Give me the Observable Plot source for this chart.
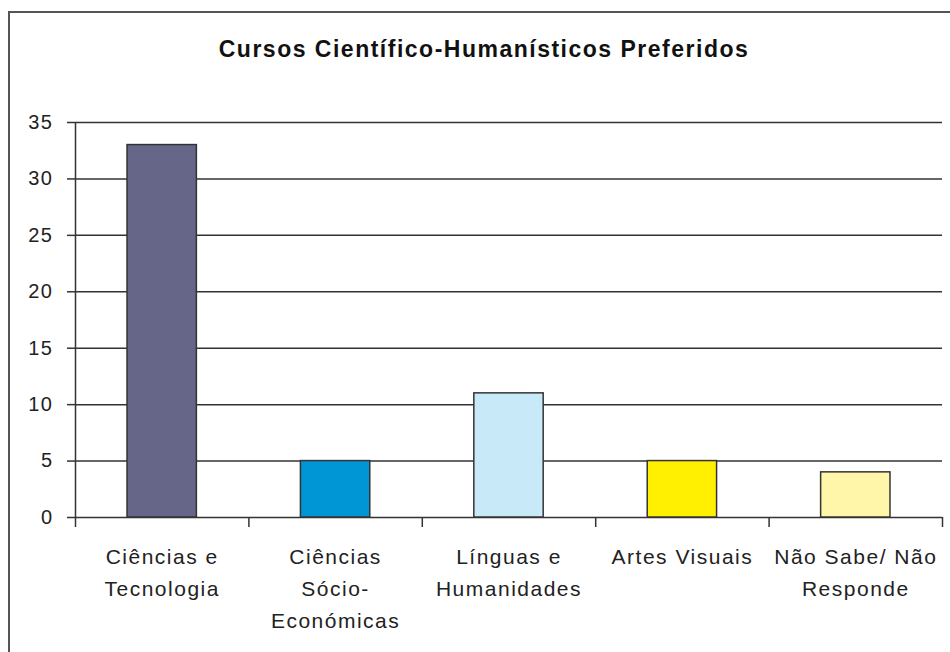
<!DOCTYPE html>
<html>
<head>
<meta charset="utf-8">
<script src="https://cdn.jsdelivr.net/npm/d3@7"></script>
<script src="https://cdn.jsdelivr.net/npm/@observablehq/plot@0.6"></script>
<style>
  html, body { margin: 0; padding: 0; background: #fff; }
  #wrap { position: relative; width: 950px; height: 652px; overflow: hidden; }
  #border { position: absolute; left: 8px; top: 11px; width: 2000px; height: 2000px;
            border-left: 2px solid #555; border-top: 2px solid #555; pointer-events: none; }
  svg text { letter-spacing: 1.5px; }
  svg text.title { letter-spacing: 0.3px; }
</style>
</head>
<body>
<div id="wrap"><div id="border"></div></div>
<script>
const title = "Cursos Científico-Humanísticos Preferidos";
const categories = ["Ciências e\nTecnologia", "Ciências\nSócio-\nEconómicas", "Línguas e\nHumanidades", "Artes Visuais", "Não Sabe/ Não\nResponde"];
const values = [33, 5, 11, 5, 4];
const colors = ["#666688", "#0095d5", "#c8e9f8", "#ffef00", "#fff6aa"];
const yTicks = [0, 5, 10, 15, 20, 25, 30, 35];
const xBoundaries = [0, 1, 2, 3, 4, 5];

const data = categories.map((c, i) => ({c, v: values[i], color: colors[i], i}));

const chart = Plot.plot({
  width: 950,
  height: 652,
  marginLeft: 75,
  marginRight: 8,
  marginTop: 122,
  marginBottom: 135,
  style: {fontFamily: "'Liberation Sans', Arial, sans-serif", fontSize: "20px", color: "#222", background: "transparent"},
  x: {domain: [0, 5], axis: null, label: null},
  y: {domain: [0, 35], axis: null, label: null},
  marks: [
    Plot.gridY(yTicks, {stroke: "#333", strokeOpacity: 1, strokeWidth: 1.5}),
    Plot.ruleX([0], {y1: 0, y2: 35, stroke: "#333", strokeWidth: 1.5}),
    Plot.axisY({ticks: yTicks, label: null, tickSize: 8, tickPadding: 14, fontSize: 20, stroke: "#333", strokeWidth: 1.5, fill: "#222"}),
    Plot.axisX({ticks: xBoundaries, label: null, tickSize: 10, tickFormat: () => "", stroke: "#333", strokeWidth: 1.5}),
    Plot.rectY(data, {x1: d => d.i + 0.3, x2: d => d.i + 0.7, y: "v", fill: "color", stroke: "#333", strokeWidth: 1.5}),
    Plot.text(data, {x: d => d.i + 0.5, y: 0, text: "c", lineAnchor: "top", dy: 24, fontSize: 21, lineHeight: 1.52, fill: "#222"}),
    Plot.text([title], {frameAnchor: "top", dx: -25, dy: -82, lineAnchor: "top", fontSize: 23, fontWeight: "bold", fill: "#111", className: "title"})
  ]
});
document.getElementById("wrap").insertBefore(chart, document.getElementById("border"));
</script>
</body>
</html>
